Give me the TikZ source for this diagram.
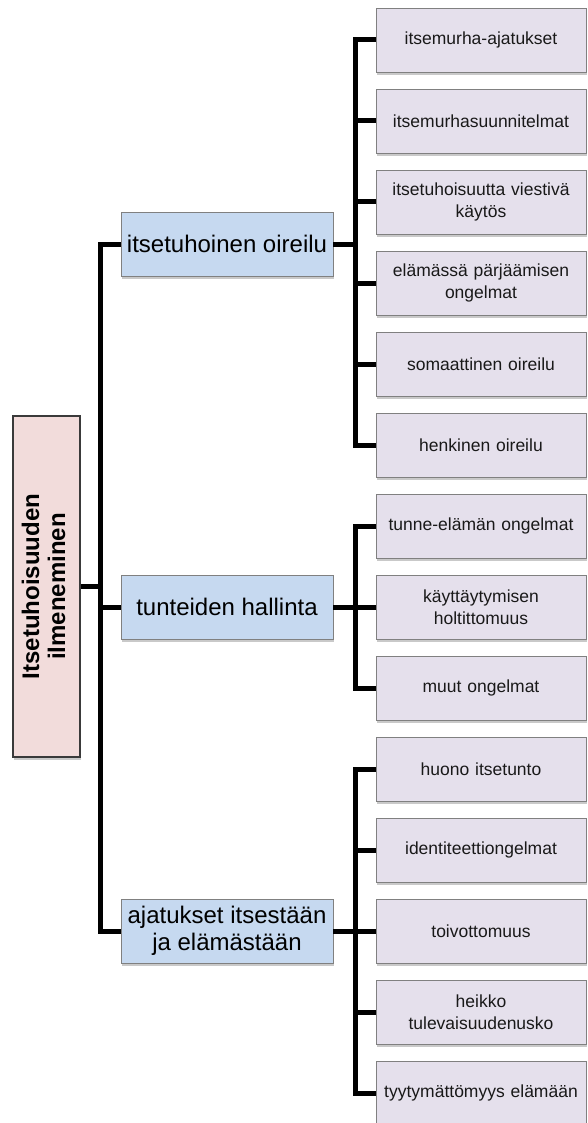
\documentclass[tikz,border=0pt]{standalone}
\usepackage{fontspec}
\setmainfont{Liberation Sans}
\usepackage{graphicx}
\usetikzlibrary{shadows}
\definecolor{rootfill}{HTML}{F2DCDB}
\definecolor{midfill}{HTML}{C6D9F0}
\definecolor{leaffill}{HTML}{E5E0EC}
\definecolor{boxline}{HTML}{808080}
\definecolor{rootline}{HTML}{3A3A3A}
\tikzset{
  shadowed/.style={drop shadow={shadow xshift=1.2pt, shadow yshift=-3pt, opacity=.35, fill=black!60}},
  rootbox/.style={shadowed, draw=rootline, line width=2pt, fill=rootfill, minimum width=67pt, minimum height=341pt, inner sep=0pt},
  midbox/.style={shadowed, draw=boxline, line width=0.9pt, fill=midfill, minimum width=212pt, minimum height=64pt, inner sep=0pt, align=center, font=\fontsize{24}{27}\selectfont},
  leafbox/.style={shadowed, draw=boxline, line width=0.9pt, fill=leaffill, minimum width=210pt, minimum height=64pt, inner sep=0pt, text width=204pt, align=center, text=black!90, font=\fontsize{17.5}{21.5}\selectfont},
  conn/.style={line width=5pt, line join=miter, draw=black}
}
\begin{document}
\begin{tikzpicture}[x=1pt, y=-1pt]
\useasboundingbox (0,0) rectangle (587,1123);
\fill[white] (0,0) rectangle (587,1123);
% coordinates of the two trunks
\coordinate (t) at (100,0);
\coordinate (s) at (355,0);
% root
\node[rootbox] (root) at (46.5,586.5) {\rotatebox{90}{\fontsize{24}{28}\selectfont\bfseries\begin{tabular}{@{}c@{}}Itsetuhoisuuden\\[-2pt]ilmeneminen\end{tabular}}};
% level 1
\node[midbox] (m1) at (227,244) {itsetuhoinen oireilu};
\node[midbox] (m2) at (227,607) {tunteiden hallinta};
\node[midbox] (m3) at (227,931) {ajatukset itsestään\\ja elämästään};
% leaves
\node[leafbox] (a1) at (481,40) {itsemurha-ajatukset};
\node[leafbox] (a2) at (481,121) {itsemurhasuunnitelmat};
\node[leafbox] (a3) at (481,202) {itsetuhoisuutta viestivä\\käytös};
\node[leafbox] (a4) at (481,283) {elämässä pärjäämisen\\ongelmat};
\node[leafbox] (a5) at (481,364) {somaattinen oireilu};
\node[leafbox] (a6) at (481,445) {henkinen oireilu};
\node[leafbox] (b1) at (481,526) {tunne-elämän ongelmat};
\node[leafbox] (b2) at (481,607) {käyttäytymisen\\holtittomuus};
\node[leafbox] (b3) at (481,688) {muut ongelmat};
\node[leafbox] (c1) at (481,769) {huono itsetunto};
\node[leafbox] (c2) at (481,850) {identiteettiongelmat};
\node[leafbox] (c3) at (481,931) {toivottomuus};
\node[leafbox] (c4) at (481,1012) {heikko\\tulevaisuudenusko};
\node[leafbox] (c5) at (481,1093) {tyytymättömyys elämään};
% root to level 1
\draw[conn] (root.east) -- (root.east -| t);
\draw[conn] (m1.west) -- (m1.west -| t) -- (m3.west -| t) -- (m3.west);
\draw[conn] (m2.west) -- (m2.west -| t);
% level 1 to leaves
\draw[conn] (m1.east) -- (m1.east -| s);
\draw[conn] (a1.west) -- (a1.west -| s) -- (a6.west -| s) -- (a6.west);
\foreach \n in {a2,a3,a4,a5} \draw[conn] (\n.west) -- (\n.west -| s);
\draw[conn] (m2.east) -- (m2.east -| s);
\draw[conn] (b1.west) -- (b1.west -| s) -- (b3.west -| s) -- (b3.west);
\draw[conn] (b2.west) -- (b2.west -| s);
\draw[conn] (m3.east) -- (m3.east -| s);
\draw[conn] (c1.west) -- (c1.west -| s) -- (c5.west -| s) -- (c5.west);
\foreach \n in {c2,c3,c4} \draw[conn] (\n.west) -- (\n.west -| s);
\end{tikzpicture}
\end{document}
